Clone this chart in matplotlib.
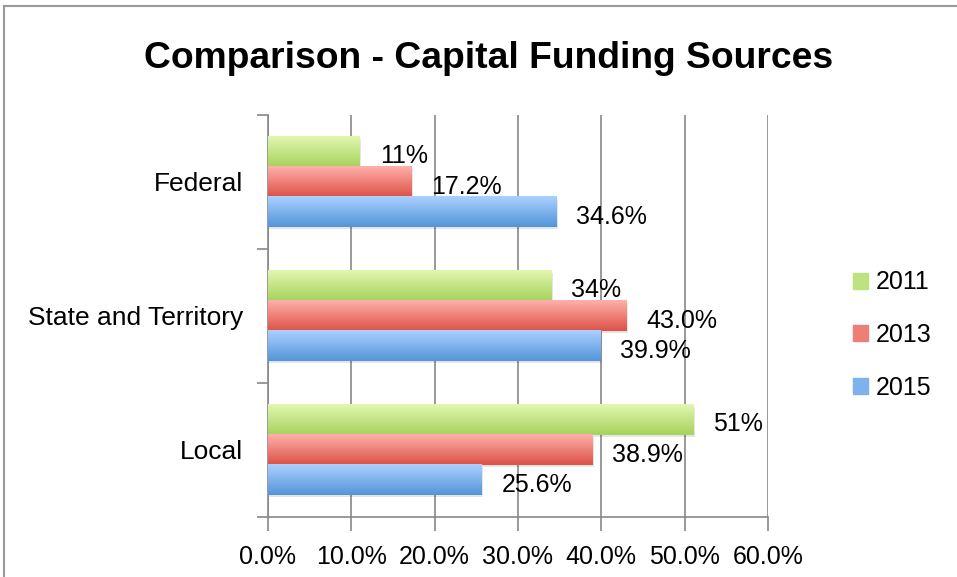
import numpy as np
import matplotlib.pyplot as plt
from matplotlib.colors import LinearSegmentedColormap
from matplotlib.lines import Line2D

plt.rcParams['font.family'] = ['Liberation Sans', 'DejaVu Sans']

# data (top to bottom in the chart: Federal, State and Territory, Local)
categories = ['Local', 'State and Territory', 'Federal']
years = ['2011', '2013', '2015']
v2011 = [51, 34, 11]
v2013 = [38.9, 43.0, 17.2]
v2015 = [25.6, 39.9, 34.6]
labels2011 = ['51%', '34%', '11%']
labels2013 = ['38.9%', '43.0%', '17.2%']
labels2015 = ['25.6%', '39.9%', '34.6%']

series = [v2011, v2013, v2015]
series_labels = [labels2011, labels2013, labels2015]
# gradient colours (top, bottom)
grads = [('#e2f7b0', '#a6d25c'), ('#ffb0ab', '#dc5247'), ('#abd0ff', '#5395d9')]
legend_cols = ['#bde27f', '#ee7f77', '#7db2ec']
offsets = [0.225, 0.0, -0.225]
h = 0.225

fig = plt.figure(figsize=(9.57, 5.77), dpi=100)
ax = fig.add_axes([0.280, 0.104, 0.5225, 0.697])

grad = np.linspace(0, 1, 64).reshape(-1, 1)
for vals, labs, (ctop, cbot), off in zip(series, series_labels, grads, offsets):
    cmap = LinearSegmentedColormap.from_list('g', [ctop, cbot])
    for i, (v, lab) in enumerate(zip(vals, labs)):
        y0 = i + off - h / 2
        # soft shadow under the bar
        ax.add_patch(plt.Rectangle((0.1, y0 - 0.015), v + 0.1, h, color='#000000', alpha=0.10,
                                   lw=0, zorder=2))
        ax.imshow(grad, extent=(0, v, y0, y0 + h), aspect='auto', cmap=cmap,
                  origin='upper', zorder=3, interpolation='bicubic')
        ax.text(v + 2.4, i + off - 0.035, lab, fontsize=18, va='center', ha='left', zorder=4)

ax.set_xlim(0, 60)
ax.set_ylim(-0.5, 2.5)

ax.set_xticks(np.arange(0, 61, 10))
ax.set_xticklabels(['%.1f%%' % t for t in np.arange(0, 61, 10)], fontsize=18)
ax.set_yticks([0, 1, 2])
ax.set_yticklabels(categories, fontsize=19)
ax.set_yticks([-0.5, 0.5, 1.5, 2.5], minor=True)
ax.tick_params(axis='y', which='major', length=0, pad=18)
ax.tick_params(axis='y', which='minor', length=8, color='#888888', width=1.2)
ax.tick_params(axis='x', length=10, color='#888888', width=1.2, pad=10)
ax.grid(axis='x', color='#888888', lw=1.2, zorder=1)
ax.set_axisbelow(True)
for s in ['top', 'right']:
    ax.spines[s].set_visible(False)
for s in ['left', 'bottom']:
    ax.spines[s].set_color('#888888')
    ax.spines[s].set_linewidth(1.2)

fig.text(0.510, 0.898, 'Comparison - Capital Funding Sources', fontsize=26.8,
         fontweight='bold', ha='center', va='center')

handles = [plt.Rectangle((0, 0), 1, 1, color=c) for c in legend_cols]
fig.legend(handles, years, loc='center left', bbox_to_anchor=(0.868, 0.419),
           frameon=False, fontsize=18, handlelength=0.6, handleheight=0.6,
           handletextpad=0.3, labelspacing=1.15)

# outer chart frame
fig.add_artist(Line2D([0.004, 1.0], [0.989, 0.989], color='#999999', lw=1.5))
fig.add_artist(Line2D([0.004, 0.004], [0.0, 0.989], color='#999999', lw=1.5))

fig.savefig('out.png', dpi=100)
